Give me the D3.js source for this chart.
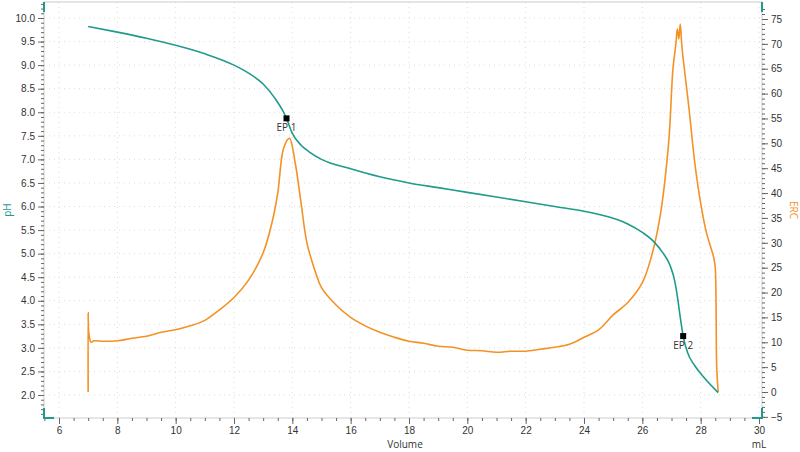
<!DOCTYPE html>
<html><head><meta charset="utf-8">
<script src="https://cdn.jsdelivr.net/npm/d3@7"></script>
<style>body{margin:0;background:#fff;font-family:"Open Sans",sans-serif}</style>
</head><body><div id="chart"></div>
<script>
const phVol = [7.0,8,9,10,11,12,12.5,13,13.4,13.7,13.8,14,14.3,14.6,15,16,17,18,19,20,21,22,23,24,25,25.5,26,26.4,26.7,26.95,27.1,27.2,27.3,27.4,27.55,27.8,28.1,28.6];
const phVal = [9.82,9.7,9.57,9.42,9.24,9.0,8.83,8.6,8.3,8.0,7.87,7.55,7.3,7.15,7.0,6.8,6.63,6.5,6.4,6.3,6.2,6.1,6.0,5.9,5.75,5.63,5.45,5.25,5.02,4.75,4.45,4.1,3.65,3.25,2.9,2.62,2.38,2.05];
const ercVol = [7.0,7.0,7.02,7.1,7.2,7.5,8,8.5,9,9.5,10,10.5,11,11.5,12,12.5,13,13.3,13.5,13.7,13.9,14.1,14.3,14.5,14.8,15,15.5,16,16.5,17,17.5,18,18.5,19,19.5,20,20.5,21,21.5,22,22.5,23,23.5,24,24.5,25,25.5,26,26.3,26.6,26.9,27.05,27.15,27.2,27.25,27.3,27.35,27.4,27.6,27.8,28.0,28.2,28.45,28.5,28.55,28.6];
const ercVal = [0,16,12,10,10.3,10.2,10.3,10.8,11.2,12,12.5,13.3,14.4,16.5,19,22.5,28,34,40,49,51,46,38,30,24,21,17.5,15,13.3,12,11,10.2,9.8,9.2,9,8.4,8.3,8,8.2,8.2,8.6,9,9.6,11,12.5,15.5,18,22,27,35,50,65,70,73,71,74,70,67,57,46,38,32,27,25,5,0];
const epLabels = ["EP 1","EP 2"];
const epVol = [13.8,27.4];
const epPh = [7.87,3.25];
const phTicks = d3.range(2,10.01,0.5);
const ercTicks = d3.range(-5,75.1,5);
const volTicks = d3.range(6,30.1,2);

const W=800,H=452, L=44, R=762, T=2, B=418;
const teal="#1f9b8c", orange="#f39224";
const x=d3.scaleLinear().domain([6,30]).range([59,759]);
const y=d3.scaleLinear().domain([2,10]).range([395,18]);
const y2=d3.scaleLinear().domain([0,75]).range([392,19]);

const svg=d3.select("#chart").append("svg").attr("width",W).attr("height",H);

// grid
const g=svg.append("g").attr("stroke","#ddd").attr("stroke-dasharray","1,4");
volTicks.forEach(v=>g.append("line").attr("x1",x(v)).attr("x2",x(v)).attr("y1",T).attr("y2",B));
phTicks.forEach(v=>g.append("line").attr("x1",L).attr("x2",R).attr("y1",y(v)).attr("y2",y(v)));

// frame
svg.append("rect").attr("x",L).attr("y",T).attr("width",R-L).attr("height",B-T).attr("fill","none").attr("stroke","#ccc");

function style(sel){sel.selectAll(".domain").remove();sel.selectAll("line").attr("stroke","#666");sel.selectAll("text").attr("fill","#333").style("font-size","10px");}

svg.append("g").attr("transform",`translate(${L},0)`)
  .call(d3.axisLeft(y).tickValues(phTicks).tickFormat(d3.format(".1f")).tickSize(6)).call(style);
svg.append("g").attr("transform",`translate(${L},0)`)
  .call(d3.axisLeft(y).tickValues(d3.range(1.6,10.31,0.1)).tickFormat("").tickSize(3)).call(style);
svg.append("g").attr("transform",`translate(${R},0)`)
  .call(d3.axisRight(y2).tickValues(ercTicks).tickSize(6)).call(style);
svg.append("g").attr("transform",`translate(${R},0)`)
  .call(d3.axisRight(y2).tickValues(d3.range(-5,78,1)).tickFormat("").tickSize(3)).call(style);
svg.append("g").attr("transform",`translate(0,${B})`)
  .call(d3.axisBottom(x).tickValues(volTicks).tickSize(6).tickPadding(3)).call(style);
svg.append("g").attr("transform",`translate(0,${B})`)
  .call(d3.axisBottom(x).tickValues(d3.range(5.5,30.1,0.5)).tickFormat("").tickSize(3)).call(style);

// corner brackets
const cb=svg.append("g").attr("stroke",teal).attr("stroke-width",2).attr("fill","none");
[[L,T,1,1],[L,B,1,-1],[R,T,-1,1],[R,B,-1,-1]].forEach(([cx,cy,dx,dy])=>{
  cb.append("path").attr("d",`M${cx},${cy+dy*10}V${cy}`+(cy===B?`H${cx+dx*10}`:""));
});

svg.append("text").attr("x",405).attr("y",448).attr("text-anchor","middle").attr("fill","#333").style("font-size","10px").text("Volume");
svg.append("text").attr("x",759).attr("y",448).attr("text-anchor","middle").attr("fill","#333").style("font-size","10px").text("mL");
svg.append("text").attr("transform","translate(11,210) rotate(-90)").attr("text-anchor","middle").attr("fill",teal).style("font-size","10px").text("pH");
svg.append("text").attr("transform","translate(790,210) rotate(90)").attr("text-anchor","middle").attr("fill",orange).style("font-size","10px").text("ERC");

const line=d3.line().curve(d3.curveMonotoneX);
svg.append("path").attr("d",d3.line().curve(d3.curveCatmullRom)(ercVol.map((v,i)=>[x(v),y2(ercVal[i])])))
  .attr("fill","none").attr("stroke",orange).attr("stroke-width",1.6);
svg.append("path").attr("d",line(phVol.map((v,i)=>[x(v),y(phVal[i])])))
  .attr("fill","none").attr("stroke",teal).attr("stroke-width",1.6);

epVol.forEach((v,i)=>{
  svg.append("rect").attr("x",x(v)-3).attr("y",y(epPh[i])-3).attr("width",6).attr("height",6).attr("fill","#000");
  svg.append("text").attr("x",x(v)).attr("y",y(epPh[i])+13).attr("text-anchor","middle").attr("fill","#333").style("font-size","10px").text(epLabels[i]);
});
</script></body></html>
